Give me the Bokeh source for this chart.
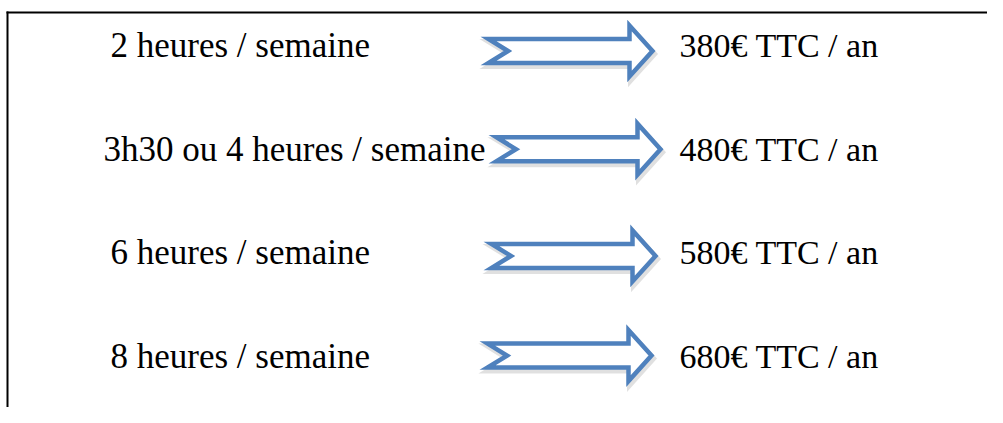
from bokeh.plotting import figure
from bokeh.models import Range1d, ColumnDataSource
from bokeh.core.properties import value
from bokeh.embed import file_html
from bokeh.resources import INLINE

# ---- data ----
hours = ["2 heures / semaine", "3h30 ou 4 heures / semaine",
         "6 heures / semaine", "8 heures / semaine"]
prices = [380, 480, 580, 680]
price_labels = [f"{v}€ TTC / an" for v in prices]

# ---- layout (picture pixels) ----
W, H = 987, 407
first_baseline = 57
row_pitch = 103.7
text_shift = -12                  # compensates rendered baseline position
label_x = [110, 103, 110, 110]
price_x = 679
arrow_left = [484, 492, 487, 483]
arrow_dy = [-6.5, -12, -9, -13]   # arrow centre relative to text baseline

BLUE = "#4F81BD"
FONT = value("Liberation Serif")

p = figure(width=W, height=H, output_backend="svg", toolbar_location=None,
           x_axis_type=None, y_axis_type=None,
           x_range=Range1d(0, W), y_range=Range1d(H, 0),
           min_border=0, outline_line_color=None,
           background_fill_color="white", border_fill_color="white")
p.grid.visible = False

# frame of the table (top and left borders)
p.line(x=[6, W], y=[12, 12], line_color="black", line_width=2)
p.line(x=[7, 7], y=[11, H], line_color="black", line_width=2)

baselines = [first_baseline + i * row_pitch for i in range(len(hours))]

# arrow template: (dx from left, dy from centre)
tmpl = [(4, -12), (145, -12), (145, -25.5), (168, 0), (145, 25.5),
        (145, 12), (4, 12), (23.5, 0)]
xs, ys, sxs, sys_ = [], [], [], []
for i, b in enumerate(baselines):
    x0 = arrow_left[i]
    yc = b + arrow_dy[i]
    xs.append([x0 + dx for dx, dy in tmpl])
    ys.append([yc + dy for dx, dy in tmpl])
    sxs.append([x0 + dx + 1.5 for dx, dy in tmpl])
    sys_.append([yc + dy + 3 for dx, dy in tmpl])

# soft shadow
p.patches(xs=sxs, ys=sys_, fill_color=None, line_color="#000000",
          line_alpha=0.12, line_width=6, line_join="miter")
p.patches(xs=xs, ys=ys, fill_color="white", line_color=BLUE,
          line_width=4.5, line_join="miter")

text_y = [b + text_shift for b in baselines]
src = ColumnDataSource(dict(lx=label_x, px=[price_x] * len(hours), y=text_y,
                            hours=hours, prices=price_labels))
p.text(x="lx", y="y", text="hours", source=src, text_font=FONT,
       text_font_size="35px", text_color="black", text_baseline="alphabetic",
       text_align="left")
p.text(x="px", y="y", text="prices", source=src, text_font=FONT,
       text_font_size="34px", text_color="black", text_baseline="alphabetic",
       text_align="left")

open("out.html", "w").write(file_html(p, INLINE))
